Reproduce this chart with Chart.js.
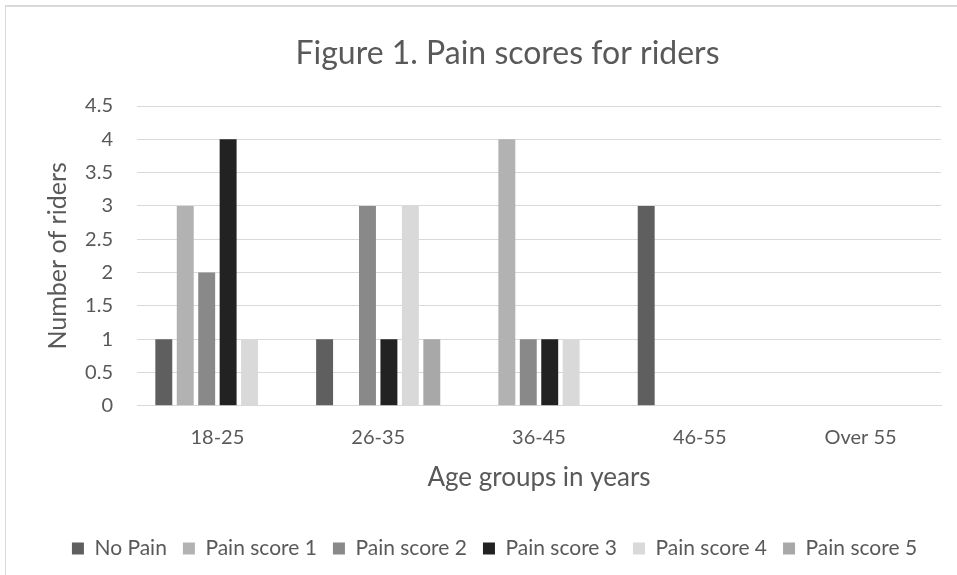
<!DOCTYPE html>
<html>
<head>
<meta charset="utf-8">
<script src="https://cdn.jsdelivr.net/npm/chart.js@4.4.1/dist/chart.umd.min.js"></script>
<style>
  html, body { margin: 0; padding: 0; background: #ffffff; }
  #frame {
    position: relative;
    width: 957px;
    height: 575px;
    overflow: hidden;
  }
  #edge {
    position: absolute;
    left: 5px; top: 5px;
    width: 960px; height: 580px;
    border-left: 1px solid #d9d9d9;
    border-top: 2px solid #d9d9d9;
    box-sizing: border-box;
    pointer-events: none;
  }
  canvas { position: absolute; left: 0; top: 0; }
</style>
</head>
<body>
<div id="frame">
  <canvas id="chart" width="957" height="575"></canvas>
  <div id="edge"></div>
</div>
<script>
// Age groups along the x axis
const ageGroups = ['18-25', '26-35', '36-45', '46-55', 'Over 55'];

// Riders per pain score in each age group
const noPain     = [1, 1, 0, 3, 0];
const painScore1 = [3, 0, 4, 0, 0];
const painScore2 = [2, 3, 1, 0, 0];
const painScore3 = [4, 1, 1, 0, 0];
const painScore4 = [1, 3, 1, 0, 0];
const painScore5 = [0, 1, 0, 0, 0];

// Values marked on the y axis
const yTicks = [0, 0.5, 1, 1.5, 2, 2.5, 3, 3.5, 4, 4.5];

const textColor = '#595959';
const fontFamily = 'Lato, "Open Sans", sans-serif';

const series = [
  { label: 'No Pain',      data: noPain,     color: '#5f5f5f' },
  { label: 'Pain score 1', data: painScore1, color: '#b2b2b2' },
  { label: 'Pain score 2', data: painScore2, color: '#898989' },
  { label: 'Pain score 3', data: painScore3, color: '#222222' },
  { label: 'Pain score 4', data: painScore4, color: '#d9d9d9' },
  { label: 'Pain score 5', data: painScore5, color: '#a8a8a8' }
];

// Re-span the title and legend boxes so both sit a little right of the canvas centre
const blockSpan = {
  id: 'blockSpan',
  afterLayout(chart) {
    const tb = chart.titleBlock;
    if (tb) {
      tb.left = 58;
      tb.right = 957;
      tb.width = tb.right - tb.left;
    }
    const lg = chart.legend;
    if (lg) {
      lg.left = 32;
      lg.right = 957;
      lg.width = lg.right - lg.left;
    }
  }
};

new Chart(document.getElementById('chart'), {
  type: 'bar',
  data: {
    labels: ageGroups,
    datasets: series.map(s => ({
      label: s.label,
      data: s.data,
      backgroundColor: s.color,
      borderWidth: 0,
      categoryPercentage: 0.8,
      barPercentage: 0.79
    }))
  },
  plugins: [blockSpan],
  options: {
    responsive: false,
    animation: false,
    layout: { padding: { left: 0, right: 16, top: 0, bottom: 6 } },
    plugins: {
      title: {
        display: true,
        text: 'Figure 1. Pain scores for riders',
        color: textColor,
        font: { family: fontFamily, size: 32, weight: 'normal' },
        padding: { top: 34, bottom: 33.6 }
      },
      legend: {
        position: 'bottom',
        labels: {
          color: textColor,
          font: { family: fontFamily, size: 21 },
          boxWidth: 12,
          boxHeight: 12,
          padding: 16
        }
      },
      tooltip: { enabled: false }
    },
    scales: {
      x: {
        grid: { display: false },
        border: { display: true, color: '#d9d9d9', width: 1 },
        ticks: {
          color: textColor,
          font: { family: fontFamily, size: 20 },
          padding: 12
        },
        title: {
          display: true,
          text: 'Age groups in years',
          color: textColor,
          font: { family: fontFamily, size: 26 },
          padding: { top: 0, bottom: 29 }
        }
      },
      y: {
        min: 0,
        max: 4.5,
        afterBuildTicks: scale => {
          scale.ticks = yTicks.map(v => ({ value: v }));
        },
        afterFit: scale => { scale.width = 137; },
        grid: { color: '#d9d9d9', lineWidth: 1, drawTicks: false },
        border: { display: false },
        ticks: {
          color: textColor,
          font: { family: fontFamily, size: 20 },
          padding: 24,
          callback: v => String(v)
        },
        title: {
          display: true,
          text: 'Number of riders',
          color: textColor,
          font: { family: fontFamily, size: 25 },
          padding: { top: 43, bottom: 0 }
        }
      }
    }
  }
});
</script>
</body>
</html>
